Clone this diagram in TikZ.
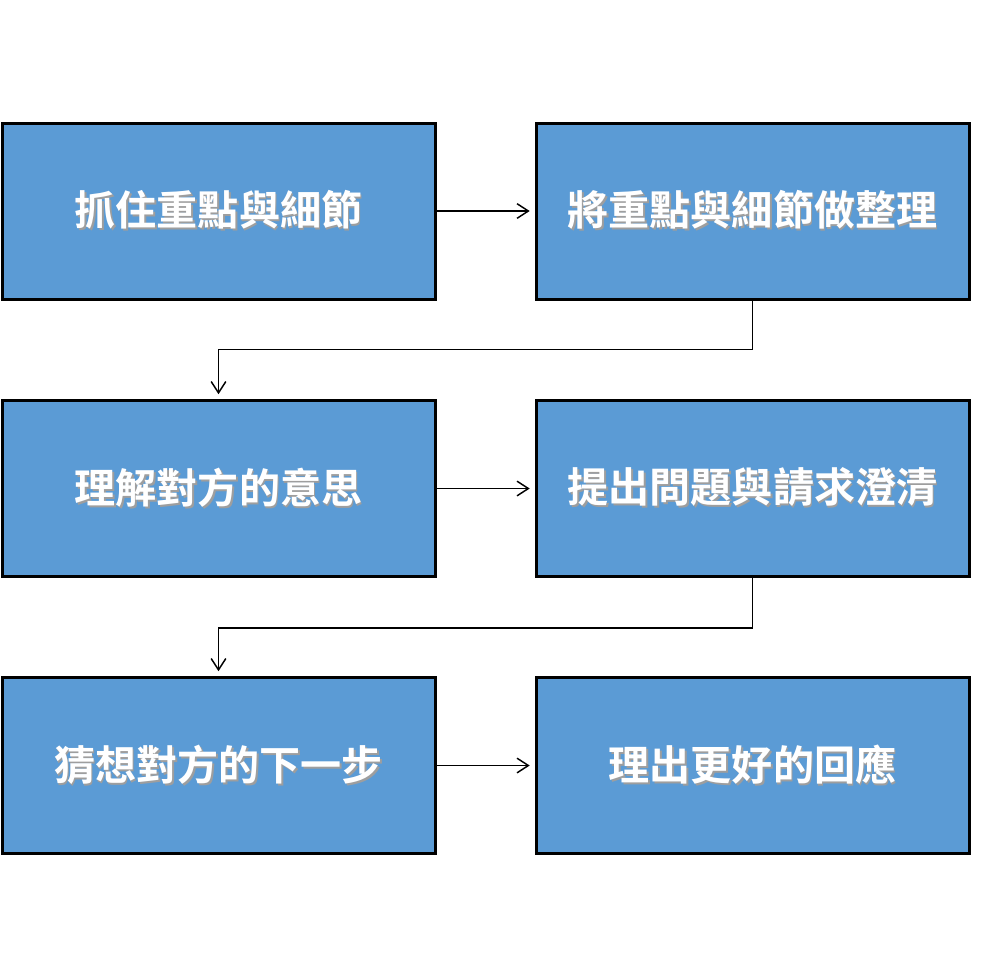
\documentclass[tikz,border=0pt]{standalone}
\usepackage{fontspec}
\setmainfont{Noto Sans CJK TC}[BoldFont={* Bold}]
\usetikzlibrary{arrows.meta}
\definecolor{stepblue}{HTML}{5B9BD5}
\tikzset{
  stepbox/.style={draw=black,fill=stepblue,line width=2.25pt,inner sep=0pt,
    minimum width=324.75pt,minimum height=132pt},
  steparrow/.style={line width=1.1pt,-{Straight Barb[length=8.5pt,width=11pt,line width=1.1pt]},shorten >=3.6pt}
}
\newcommand{\steptext}[1]{%
  \fontsize{30.8}{36}\selectfont\bfseries
  \makebox[0pt][c]{\makebox[0pt][c]{\raisebox{-1.5pt}{\hspace*{2.5pt}\textcolor{black!38}{#1}}}%
  \makebox[0pt][c]{\textcolor{white}{#1}}}}
\begin{document}
\begin{tikzpicture}[x=0.75pt,y=-0.75pt]
    \useasboundingbox (0,0) rectangle (981,976);

    %Boxes
    \node[stepbox] (grasp) at (218.5,211) {\steptext{抓住重點與細節}};
    \node[stepbox] (sort) at (752.5,211) {\steptext{將重點與細節做整理}};
    \node[stepbox] (understand) at (218.5,488.5) {\steptext{理解對方的意思}};
    \node[stepbox] (clarify) at (752.5,488.5) {\steptext{提出問題與請求澄清}};
    \node[stepbox] (guess) at (218.5,765.5) {\steptext{猜想對方的下一步}};
    \node[stepbox] (reply) at (752.5,765.5) {\steptext{理出更好的回應}};

    %Arrows
    \draw[steparrow] (grasp) -- (sort);
    \draw[steparrow] (sort.south) -- ++(0,49) -| (understand.north);
    \draw[steparrow] (understand) -- (clarify);
    \draw[steparrow] (clarify.south) -- ++(0,50) -| (guess.north);
    \draw[steparrow] (guess) -- (reply);
\end{tikzpicture}
\end{document}
